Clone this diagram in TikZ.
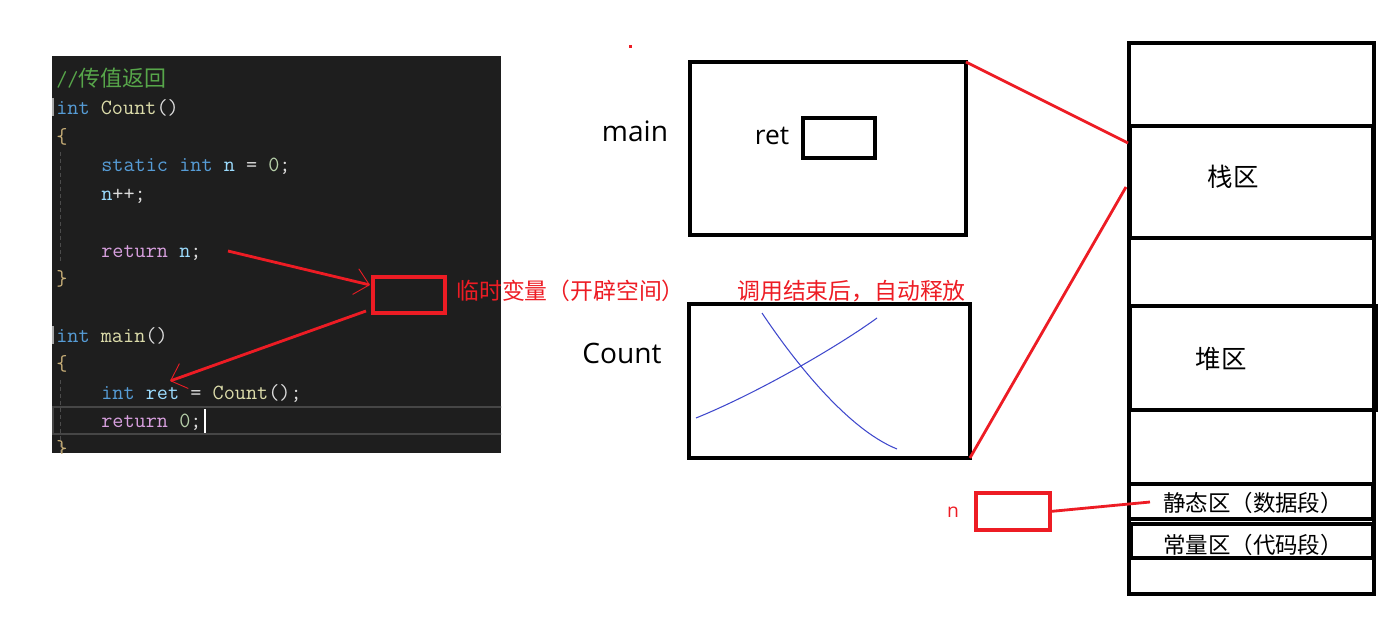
\documentclass[tikz,border=0pt]{standalone}
\usepackage{fontspec}
\setmainfont{Open Sans}
\newfontfamily\cjk{Noto Sans CJK SC}
\usetikzlibrary{arrows.meta}
\definecolor{paintred}{HTML}{ED1C24}
\definecolor{paintblue}{HTML}{3F48CC}
\definecolor{codebg}{HTML}{1E1E1E}
\definecolor{ccomment}{HTML}{57A64A}
\definecolor{ckeyword}{HTML}{569CD6}
\definecolor{cfunc}{HTML}{DCDCAA}
\definecolor{cvar}{HTML}{9CDCFE}
\definecolor{cflow}{HTML}{D8A0DF}
\definecolor{cnum}{HTML}{B5CEA8}
\definecolor{cpunct}{HTML}{DCDCDC}
\definecolor{cbrace}{HTML}{C8AF78}
\newcommand{\ckw}[1]{\textcolor{ckeyword}{#1}}
\newcommand{\cfn}[1]{\textcolor{cfunc}{#1}}
\newcommand{\cvr}[1]{\textcolor{cvar}{#1}}
\newcommand{\cfl}[1]{\textcolor{cflow}{#1}}
\newcommand{\cnm}[1]{\textcolor{cnum}{#1}}

\begin{document}
\begin{tikzpicture}[x=0.02cm,y=-0.02cm,
	box/.style={draw=black,line width=2pt,inner sep=0pt,outer sep=0pt,anchor=north west},
	redbox/.style={draw=paintred,line width=1.9pt,inner sep=0pt,outer sep=0pt,anchor=north west},
	redline/.style={draw=paintred,line width=1.6pt},
	handtip/.style={-{Straight Barb[length=8pt,width=15pt,line width=0.5pt]}},
	code/.style={anchor=base west,inner sep=0pt,text=cpunct,font=\ttfamily\fontsize{12.3}{14}\selectfont},
	redlabel/.style={anchor=west,inner sep=0pt,text=paintred,font=\cjk\fontsize{13}{15}\selectfont},
	memlabel/.style={inner sep=0pt,font=\cjk\fontsize{12.8}{15}\selectfont},
	namelabel/.style={inner sep=0pt,font=\fontsize{16}{19}\selectfont}]
	\useasboundingbox (0,0) rectangle (1400,616);
	% code panel
	\fill[codebg] (52,56) rectangle (501,453);
	\begin{scope}
		\clip (52,56) rectangle (501,453);
		\draw[color=gray!55!black,line width=1.2pt] (53,407) rectangle (520,434);
		\draw[color=gray!60!black,dashed,dash pattern=on 2pt off 2pt,line width=0.5pt] (60,152) -- (60,262);
		\draw[color=gray!60!black,dashed,dash pattern=on 2pt off 2pt,line width=0.5pt] (60,380) -- (60,453);
		\draw[color=gray!70,line width=1pt] (53,98) -- (53,116);
		\draw[color=gray!70,line width=1pt] (53,326) -- (53,344);
		\node[code] (cmt) at (56,86) {\textcolor{ccomment}{//{\cjk\fontsize{12.5}{14}\selectfont 传值返回}}};
		\node[code] (defcount) at (56,114) {\ckw{int} \cfn{Count}()};
		\node[code] (open1) at (56,143) {\textcolor{cbrace}{\{}};
		\node[code] (statn) at (101,171) {\ckw{static} \ckw{int} \cvr{n} = \cnm{0};};
		\node[code] (incn) at (101,200) {\cvr{n}++;};
		\node[code] (retline) at (101,257) {\cfl{return} \cvr{n};};
		\node[code] (close1) at (56,285) {\textcolor{cbrace}{\}}};
		\node[code] (defmain) at (56,342) {\ckw{int} \cfn{main}()};
		\node[code] (open2) at (56,370) {\textcolor{cbrace}{\{}};
		\node[code] (callline) at (101,399) {\ckw{int} \cvr{ret} = \cfn{Count}();};
		\node[code] (retzero) at (101,427) {\cfl{return} \cnm{0};};
		\node[code] (close2) at (56,455) {\textcolor{cbrace}{\}}};
		\draw[white,line width=0.8pt] (205,409) -- (205,433);
	\end{scope}
	% temporary copy
	\node[redbox,minimum width=1.44cm,minimum height=0.72cm] (tempbox) at (373,277) {};
	\node[redlabel] (templabel) at (456,291) {临时变量（开辟空间）};
	\coordinate (retn) at (228,251);
	\coordinate (tempin) at (370,285);
	\coordinate (tempout) at (366,311);
	\coordinate (retvar) at (170,381);
	\draw[redline,handtip] (retn) -- (tempin);
	\draw[redline,handtip] (tempout) -- (retvar);
	\fill[paintred] (629,45) rectangle (632,48);
	% stack frames
	\node[namelabel] (mainlabel) at (635,131) {main};
	\node[box,minimum width=5.52cm,minimum height=3.46cm] (mainbox) at (690,62) {};
	\node[namelabel,font=\fontsize{15}{18}\selectfont] (retlabel) at (772,136) {ret};
	\node[box,minimum width=1.44cm,minimum height=0.8cm] (retbox) at (803,118) {};
	\node[namelabel] (countlabel) at (622,353) {Count};
	\node[box,minimum width=5.62cm,minimum height=3.08cm] (countbox) at (689,304) {};
	\node[redlabel] (freelabel) at (737,291) {调用结束后，自动释放};
	\draw[paintblue,line width=0.6pt] (696,418) .. controls (760,392) and (840,345) .. (877,318);
	\draw[paintblue,line width=0.6pt] (762,313) .. controls (790,355) and (845,428) .. (897,449);
	% memory layout
	\node[box,minimum width=4.9cm,minimum height=11.02cm] (memory) at (1129,43) {};
	\node[box,minimum width=4.86cm,minimum height=2.24cm] (stackbox) at (1130,126) {};
	\node[box,minimum width=4.92cm,minimum height=2.08cm] (heapbox) at (1130,306) {};
	\node[box,minimum width=4.88cm,minimum height=0.7cm] (staticbox) at (1129,484) {};
	\node[box,minimum width=4.84cm,minimum height=0.68cm] (constbox) at (1131,524) {};
	\node[memlabel,font=\cjk\fontsize{14.5}{17}\selectfont] (stacklabel) at (1233,177) {栈区};
	\node[memlabel,font=\cjk\fontsize{14.5}{17}\selectfont] (heaplabel) at (1221,359) {堆区};
	\node[memlabel] (staticlabel) at (1253,503) {静态区（数据段）};
	\node[memlabel] (constlabel) at (1253,545) {常量区（代码段）};
	\coordinate (stackin) at (1128,143);
	\coordinate (stackout) at (1126,187);
	\draw[redline] (mainbox.north east) -- (stackin);
	\draw[redline] (stackout) -- (countbox.south east);
	% static variable
	\node[text=paintred,inner sep=0pt,font=\fontsize{11}{13}\selectfont] (nlabel) at (953,512) {n};
	\node[redbox,minimum width=1.48cm,minimum height=0.74cm] (nbox) at (976,493) {};
	\coordinate (staticin) at (1150,502);
	\draw[redline] (nbox.east) -- (staticin);
\end{tikzpicture}
\end{document}
